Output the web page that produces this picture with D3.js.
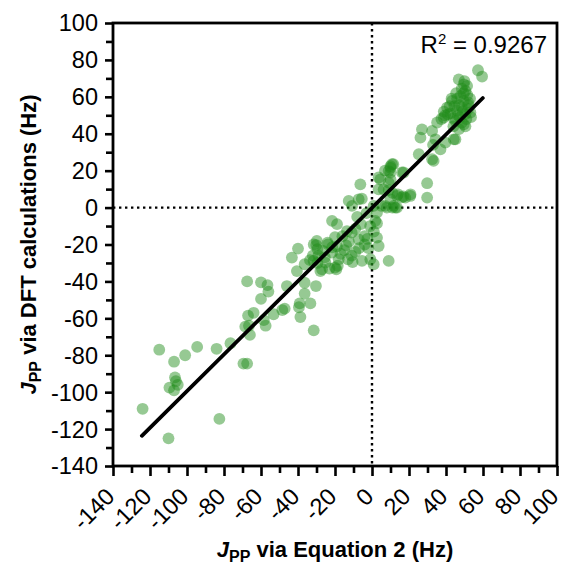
<!DOCTYPE html>
<html>
<head>
<meta charset="utf-8">
<script src="https://cdn.jsdelivr.net/npm/d3@7"></script>
<style>
  body { margin: 0; background: #fff; }
  text { font-family: "Liberation Sans", Arial, sans-serif; }
</style>
</head>
<body>
<svg id="chart" width="563" height="567"></svg>
<script>
'use strict';

// J_PP via Equation 2 (x) vs J_PP via DFT (y), Hz
var eqX = [
    -124, -110, -115, -107, -106.5, -106, -105, -109.5, -107, -101, -94.5, -84, -82.5, -76.5, -69.5, -67.5,
    -67.5, -60, -56.5, -56, -60, -64, -67, -58.5, -57.5, -66.5, -66, -68.5,
    -46, -36.4, -30.3, -36.4, -33.3, -39.1, -39.5, -47.2, -48.5, -38.7, -53.2, -31.5, -43.3, -40, -36.4, -40.6,
    -30.1, -29.5, -23.8, -27.9, -23, -33.5, -25.2, -21.6, -19.3, -18.5, -31.6,
    10, 11.5, 9, 3.6, 16.2, -6.3, 3.6, 9, 11, 13.5, 17, -12.6, -7.2, -5.5, -10.8, 0.9, 7.2, 11.7, 2.7, 1.8,
    2.7, -21.6, -18.9, -13.5, -16, -11, -9, -7.2, -4, -2.5, -4, -12.5, -14, 2.7, 3.6, -29.8, -31.5, -24, -21.5,
    -19, -26.5, -29, -25.5, -18, -13, -10.5, -5.4, -0.9, 0.9, 9, -27, -20, -32, -29.5,
    -8, -3, -1, -6, -15, -9, -17, -7, -11, 1, -2, -20, 6.3, 9, 9.9, 12.6, 8, 14, 18, 20.7,
    35.2, 37.5, 39.5, 42.5, 46, 47.5, 48.5, 32.5, 27, 26.2, 34.3, 39.7, 45.1, 33, 37, 25.3, 32.5, 33.3,
    10.8, 10, 7, 17.1, 10, 4.5, 29.8, 29.8, 20.8, 16, 10, 13.5, 11, 5,
    57.3, 59.5, 46.9, 49.6, 51.4, 50.5, 48.5, 47.8, 46, 43.3, 44.5, 40.6, 38.8, 41, 38.8, 49.6, 48.5, 50.5,
    52, 53.2, 49.6, 45.1, 44.2, 51, 52, 51.5, 53, 50, 45.5, 42, 47, 49, 46.5, 44, 52, 49.5, 43, 44, 47, 50.5, 53.5
];
var dftY = [
    -109, -125, -77, -83.5, -92, -94, -96, -97.5, -99, -80, -75.5, -76.5, -114.5, -73.5, -84.5, -84.5,
    -40, -40.5, -42, -45.5, -49.5, -57, -58.5, -61, -64, -64, -69, -64.5,
    -42.5, -40.7, -42.5, -46.6, -51.9, -51.9, -54, -54.7, -55.5, -59.3, -57.8, -66.5, -27.1, -22.2, -30.7, -34.4,
    -20.3, -22.5, -19.9, -34.4, -33, -28.5, -29.8, -24.4, -33.4, -31.5, -28.9,
    22.5, 23.5, 19.8, 16.3, 19, 12.6, 9.9, 9.5, 8, 6.3, 6, 3.6, 4.5, 4.8, 0.9, 0.9, 0.9, 0.9, -2.7, -7.2,
    -8.5, -7.2, -9, -12.7, -15.5, -13.5, -11.5, -17.2, -15.5, -17, -20, -18.5, -20.5, -16.3, -20.8, -18.1, -20, -19, -21.5,
    -21, -23.5, -26, -27, -28, -28, -29.5, -28.9, -28, -30.7, -28.9, -33.4, -32.5, -26, -30,
    -5, -3, -10, -9, -23, -24, -25, -22, -26, -13, -22, -16, 9.9, 13.5, 19, 0, 0, 7.2, 5.4, 6.3,
    46.1, 48, 50, 51, 52.5, 49, 46, 41.5, 42.4, 37.9, 37, 35.2, 37, 34, 31.5, 28.9, 26.2, 25.3,
    23.5, 21.5, 20, 19, 15.3, 15.3, 13.2, 5.4, 7.2, 5.5, 4.5, 0, 0, 1,
    74.4, 71, 69.5, 66.8, 65.9, 63.2, 64.5, 60.5, 59, 57.8, 55, 54.2, 52, 50.5, 48.8, 57.8, 54.5, 50.6,
    53.5, 51.5, 45.1, 46.9, 37, 48, 57, 61, 59, 68.5, 62, 55, 55.5, 52, 50, 48.5, 55.5, 62, 59, 44, 42.5, 44, 49
];

// linear fit drawn over the range of the data
var fitRange = [-124.4, 59.9];
var fitSlope = 0.993;
var fitIntercept = -0.1;
var rSquared = '0.9267';

var axisTicks = d3.range(-140, 101, 20);
var minorTicks = d3.range(-130, 100, 20);

var margin = { left: 113, top: 23, right: 6, bottom: 101 };
var width = 563 - margin.left - margin.right;
var height = 567 - margin.top - margin.bottom;

var svg = d3.select('#chart');
var g = svg.append('g').attr('transform', 'translate(' + margin.left + ',' + margin.top + ')');

var x = d3.scaleLinear().domain([-140, 100]).range([0, width]);
var y = d3.scaleLinear().domain([-140, 100]).range([height, 0]);

// zero reference lines
g.append('line')
    .attr('x1', x(0)).attr('x2', x(0)).attr('y1', 0).attr('y2', height)
    .attr('stroke', '#000').attr('stroke-width', 2.4).attr('stroke-dasharray', '2.4,3.6');
g.append('line')
    .attr('x1', 0).attr('x2', width).attr('y1', y(0)).attr('y2', y(0))
    .attr('stroke', '#000').attr('stroke-width', 2.4).attr('stroke-dasharray', '2.4,3.6');

// points
g.append('g').selectAll('circle')
    .data(eqX)
    .enter()
    .append('circle')
    .attr('cx', function (d) { return x(d); })
    .attr('cy', function (d, i) { return y(dftY[i]); })
    .attr('r', 5.9)
    .attr('fill', '#1f8c1a')
    .attr('fill-opacity', 0.47);

// fit line
g.append('line')
    .attr('x1', x(fitRange[0])).attr('y1', y(fitSlope * fitRange[0] + fitIntercept))
    .attr('x2', x(fitRange[1])).attr('y2', y(fitSlope * fitRange[1] + fitIntercept))
    .attr('stroke', '#000').attr('stroke-width', 3.8).attr('stroke-linecap', 'round');

// axes
g.append('g').attr('transform', 'translate(0,' + height + ')')
    .call(d3.axisBottom(x).tickValues(axisTicks).tickSize(10).tickFormat(''));
g.append('g').attr('transform', 'translate(0,' + height + ')')
    .call(d3.axisBottom(x).tickValues(minorTicks).tickSize(7).tickFormat(''));
g.append('g')
    .call(d3.axisLeft(y).tickValues(axisTicks).tickSize(8).tickFormat(''));
g.append('g')
    .call(d3.axisLeft(y).tickValues(minorTicks).tickSize(7).tickFormat(''));
g.selectAll('.domain').remove();
g.selectAll('.tick line').attr('stroke', '#000').attr('stroke-width', 2.6);

g.append('rect')
    .attr('width', width).attr('height', height)
    .attr('fill', 'none').attr('stroke', '#000').attr('stroke-width', 2.8);

// tick labels
g.append('g').selectAll('text')
    .data(axisTicks)
    .enter()
    .append('text')
    .attr('x', -15)
    .attr('y', function (d) { return y(d); })
    .attr('dy', '0.36em')
    .attr('text-anchor', 'end')
    .attr('font-size', 23.5)
    .text(function (d) { return String(d); });

g.append('g').selectAll('text')
    .data(axisTicks)
    .enter()
    .append('text')
    .attr('transform', function (d) { return 'translate(' + (x(d) + 3) + ',' + (height + 32) + ') rotate(-45)'; })
    .attr('text-anchor', 'end')
    .attr('font-size', 23.5)
    .text(function (d) { return String(d); });

// R squared
var r2 = g.append('text')
    .attr('x', width - 10).attr('y', 30)
    .attr('text-anchor', 'end')
    .attr('font-size', 24);
r2.append('tspan').text('R');
r2.append('tspan').attr('font-size', 15).attr('dy', -9).text('2');
r2.append('tspan').attr('dy', 9).text(' = ' + rSquared);

// axis titles
var xTitle = svg.append('text')
    .attr('x', margin.left + width / 2).attr('y', 557)
    .attr('text-anchor', 'middle')
    .attr('font-size', 22).attr('font-weight', 'bold');
xTitle.append('tspan').attr('font-style', 'italic').text('J');
xTitle.append('tspan').attr('font-size', 16).attr('dy', 5).text('PP');
xTitle.append('tspan').attr('dy', -5).text(' via Equation 2 (Hz)');

var yTitle = svg.append('text')
    .attr('transform', 'translate(36,' + (margin.top + height / 2) + ') rotate(-90)')
    .attr('text-anchor', 'middle')
    .attr('font-size', 22).attr('font-weight', 'bold');
yTitle.append('tspan').attr('font-style', 'italic').text('J');
yTitle.append('tspan').attr('font-size', 16).attr('dy', 5).text('PP');
yTitle.append('tspan').attr('dy', -5).text(' via DFT calculations (Hz)');
</script>
</body>
</html>
